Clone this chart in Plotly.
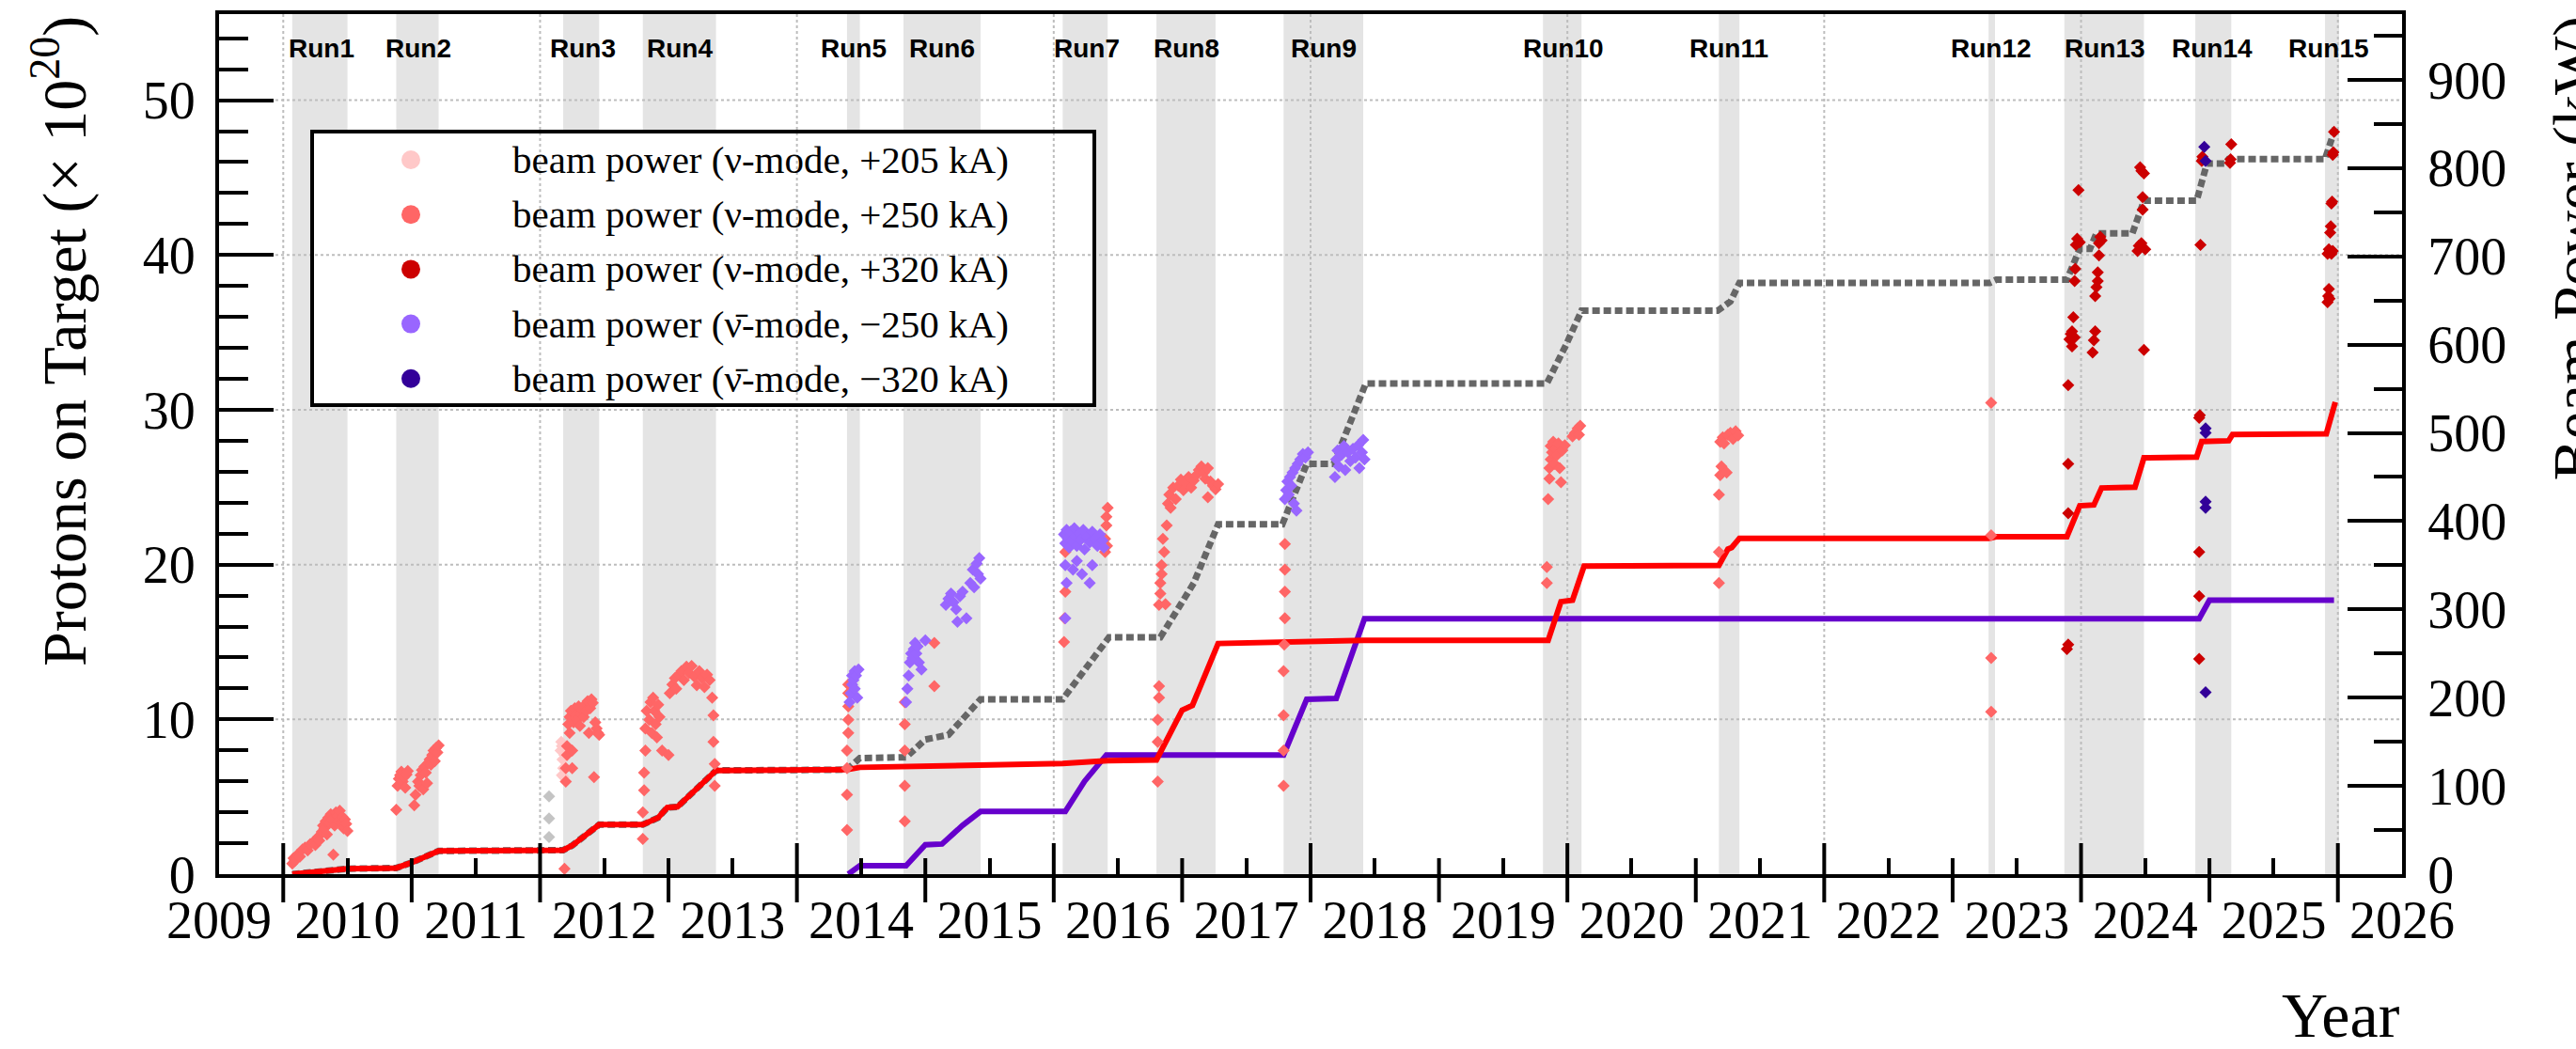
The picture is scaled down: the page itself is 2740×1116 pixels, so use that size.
import plotly.graph_objects as go

# ---------------- geometry ----------------
W, H = 2740, 1116
ML, MR, MT, MB = 233, 185, 15, 186
PW, PH = W - ML - MR, H - MT - MB
X_RANGE = [2009.5, 2026.5]
POT_MAX = 55.56
KW_MAX = 974.5

# ---------------- run periods ----------------
run_names = ["Run1", "Run2", "Run3", "Run4", "Run5", "Run6", "Run7", "Run8",
             "Run9", "Run10", "Run11", "Run12", "Run13", "Run14", "Run15"]
run_start = [2010.07, 2010.88, 2012.18, 2012.80, 2014.39, 2014.83, 2016.07, 2016.80,
             2017.79, 2019.81, 2021.18, 2023.28, 2023.87, 2024.89, 2025.90]
run_end = [2010.50, 2011.21, 2012.46, 2013.37, 2014.49, 2015.43, 2016.42, 2017.26,
           2018.41, 2020.11, 2021.34, 2023.33, 2024.49, 2025.17, 2026.01]
run_label_x = [2010.30, 2011.05, 2012.33, 2013.09, 2014.44, 2015.13, 2016.26, 2017.03,
               2018.10, 2019.97, 2021.26, 2023.30, 2024.19, 2025.02, 2025.93]

year_labels = list(range(2009, 2027))

# ---------------- accumulated POT (x10^20) ----------------
nu_year = [2010.07, 2010.22, 2010.50, 2010.88, 2011.00, 2011.21, 2012.18, 2012.25, 2012.46,
           2012.80, 2012.92, 2012.99, 2013.07, 2013.37, 2014.39, 2014.49, 2014.83, 2015.43,
           2016.07, 2016.42, 2016.80, 2017.00, 2017.08, 2017.28, 2017.79, 2018.41, 2019.85,
           2019.95, 2020.04, 2020.13, 2021.18, 2021.25, 2021.28, 2021.34, 2023.28, 2023.34,
           2023.89, 2023.99, 2024.10, 2024.16, 2024.42, 2024.49, 2024.90, 2024.94, 2025.15,
           2025.18, 2025.91, 2025.98]
nu_pot = [0.0, 0.1, 0.35, 0.4, 0.75, 1.5, 1.55, 1.85, 3.2,
          3.2, 3.65, 4.3, 4.35, 6.7, 6.75, 6.9, 6.95, 7.12,
          7.15, 7.33, 7.38, 10.6, 10.9, 14.9, 14.95, 15.1, 15.1,
          17.6, 17.7, 19.9, 19.95, 21.0, 21.1, 21.7, 21.7, 21.8,
          21.8, 23.8, 23.85, 24.95, 25.0, 26.9, 26.95, 27.95, 28.0,
          28.4, 28.45, 30.5]

anu_year = [2014.40, 2014.49, 2014.85, 2015.00, 2015.13, 2015.29, 2015.43, 2016.09, 2016.24,
            2016.41, 2017.79, 2017.97, 2018.20, 2018.42, 2024.92, 2025.00, 2025.97]
anu_pot = [0.0, 0.55, 0.55, 1.9, 1.95, 3.15, 4.05, 4.05, 6.0,
           7.7, 7.7, 11.3, 11.35, 16.5, 16.5, 17.7, 17.7]

tot_year = [2010.07, 2010.22, 2010.50, 2010.88, 2011.00, 2011.21, 2012.18, 2012.25, 2012.46,
            2012.80, 2012.92, 2012.99, 2013.07, 2013.37, 2014.39, 2014.49, 2014.85, 2015.00,
            2015.18, 2015.43, 2016.07, 2016.43, 2016.83, 2017.02, 2017.09, 2017.28, 2017.78,
            2017.97, 2018.18, 2018.43, 2019.84, 2019.99, 2020.11, 2021.17, 2021.27, 2021.34,
            2023.29, 2023.34, 2023.89, 2023.99, 2024.07, 2024.12, 2024.40, 2024.49, 2024.90,
            2024.98, 2025.12, 2025.15, 2025.90, 2025.98]
tot_pot = [0.0, 0.1, 0.35, 0.4, 0.75, 1.5, 1.55, 1.85, 3.2,
           3.2, 3.65, 4.3, 4.35, 6.7, 6.75, 7.5, 7.55, 8.7,
           9.0, 11.3, 11.3, 15.3, 15.3, 17.85, 18.8, 22.6, 22.6,
           26.5, 26.5, 31.7, 31.7, 34.2, 36.4, 36.4, 37.0, 38.2,
           38.2, 38.4, 38.4, 40.4, 40.4, 41.4, 41.4, 43.5, 43.5,
           45.9, 45.9, 46.2, 46.2, 48.2]

# ---------------- beam power points (kW) : (year, kW) ----------------
pow_p205 = [(2012.16, 140), (2012.165, 150), (2012.17, 145), (2012.17, 112), (2012.175, 130),
            (2012.18, 120), (2012.185, 110), (2012.19, 135)]

pow_p250 = [
    # Run1
    (2010.07, 12), (2010.08, 18), (2010.09, 15), (2010.11, 22), (2010.13, 20), (2010.15, 28),
    (2010.17, 30), (2010.19, 27), (2010.21, 34), (2010.23, 36), (2010.25, 33), (2010.27, 42),
    (2010.28, 38), (2010.30, 48), (2010.31, 55), (2010.32, 52), (2010.33, 60), (2010.34, 45),
    (2010.35, 64), (2010.36, 58), (2010.37, 68), (2010.38, 62), (2010.39, 22), (2010.40, 55),
    (2010.41, 70), (2010.42, 66), (2010.43, 60), (2010.44, 72), (2010.45, 58), (2010.46, 65),
    (2010.47, 52), (2010.48, 62), (2010.49, 57), (2010.50, 49),
    # Run2
    (2010.88, 73), (2010.89, 100), (2010.90, 108), (2010.91, 112), (2010.92, 116), (2010.93, 105),
    (2010.94, 110), (2010.95, 98), (2010.96, 113), (2010.97, 117), (2011.02, 78), (2011.03, 90),
    (2011.05, 105), (2011.06, 100), (2011.07, 112), (2011.08, 118), (2011.09, 96), (2011.10, 122),
    (2011.11, 115), (2011.12, 103), (2011.13, 126), (2011.14, 130), (2011.15, 124), (2011.16, 135),
    (2011.17, 140), (2011.18, 128), (2011.19, 143), (2011.20, 138), (2011.21, 146),
    # Run3
    (2012.19, 6), (2012.20, 105), (2012.20, 120), (2012.21, 135), (2012.21, 145), (2012.22, 170),
    (2012.23, 178), (2012.23, 160), (2012.24, 185), (2012.25, 120), (2012.25, 140), (2012.26, 172),
    (2012.27, 188), (2012.28, 180), (2012.29, 175), (2012.30, 190), (2012.31, 168), (2012.32, 182),
    (2012.33, 186), (2012.34, 178), (2012.35, 192), (2012.36, 185), (2012.37, 196), (2012.38, 160),
    (2012.39, 188), (2012.40, 198), (2012.41, 194), (2012.42, 110), (2012.43, 172), (2012.44, 165),
    (2012.45, 160), (2012.46, 158),
    # Run4
    (2012.80, 40), (2012.80, 70), (2012.81, 95), (2012.81, 115), (2012.82, 140), (2012.82, 165),
    (2012.83, 185), (2012.85, 175), (2012.86, 195), (2012.87, 160), (2012.88, 200), (2012.89, 185),
    (2012.90, 170), (2012.91, 155), (2012.92, 192), (2012.93, 178), (2012.95, 140), (2013.00, 135),
    (2013.01, 205), (2013.03, 215), (2013.05, 222), (2013.06, 210), (2013.08, 226), (2013.10, 230),
    (2013.12, 220), (2013.14, 235), (2013.16, 228), (2013.18, 236), (2013.20, 224), (2013.22, 214),
    (2013.24, 230), (2013.26, 222), (2013.28, 212), (2013.30, 226), (2013.32, 220), (2013.34, 200),
    (2013.35, 180), (2013.35, 150), (2013.36, 125), (2013.36, 100),
    # Run5
    (2014.39, 50), (2014.39, 90), (2014.39, 120), (2014.39, 140), (2014.40, 160), (2014.40, 175),
    (2014.40, 190), (2014.40, 205), (2014.40, 215),
    # Run6
    (2014.84, 60), (2014.84, 100), (2014.84, 140), (2014.84, 170), (2014.84, 195), (2015.07, 213),
    (2015.07, 262),
    # Run7
    (2016.08, 263), (2016.085, 290), (2016.09, 320), (2016.09, 365), (2016.40, 365), (2016.40, 380),
    (2016.41, 395), (2016.41, 405), (2016.42, 415), (2016.415, 372),
    # Run8
    (2016.81, 105), (2016.81, 150), (2016.81, 175), (2016.82, 200), (2016.82, 213), (2016.82, 305),
    (2016.83, 318), (2016.83, 330), (2016.84, 340), (2016.84, 350), (2016.85, 380), (2016.86, 365),
    (2016.87, 306), (2016.88, 395), (2016.89, 420), (2016.90, 430), (2016.91, 415), (2016.93, 438),
    (2016.95, 425), (2016.97, 440), (2016.99, 447), (2017.01, 435), (2017.03, 443), (2017.05, 450),
    (2017.07, 438), (2017.09, 446), (2017.11, 452), (2017.13, 458), (2017.15, 462), (2017.17, 455),
    (2017.18, 448), (2017.20, 460), (2017.20, 427), (2017.22, 445), (2017.24, 440), (2017.26, 436),
    (2017.28, 442),
    # Run9
    (2017.79, 100), (2017.79, 140), (2017.79, 180), (2017.79, 230), (2017.795, 260), (2017.80, 290),
    (2017.80, 320), (2017.80, 345), (2017.80, 374),
    # Run10
    (2019.84, 330), (2019.84, 348), (2019.85, 425), (2019.86, 448), (2019.86, 460), (2019.87, 470),
    (2019.87, 485), (2019.88, 478), (2019.89, 490), (2019.90, 465), (2019.91, 482), (2019.92, 475),
    (2019.93, 488), (2019.94, 460), (2019.95, 444), (2019.96, 480), (2019.98, 486), (2020.04, 496),
    (2020.06, 500), (2020.08, 505), (2020.09, 498), (2020.10, 508),
    # Run11
    (2021.18, 330), (2021.18, 365), (2021.18, 430), (2021.19, 452), (2021.19, 490), (2021.20, 462),
    (2021.21, 495), (2021.22, 488), (2021.24, 455), (2021.25, 498), (2021.27, 500), (2021.29, 493),
    (2021.31, 502), (2021.33, 497),
    # Run12
    (2023.30, 184), (2023.30, 245), (2023.30, 384), (2023.30, 534),
]

pow_p320 = [
    # Run13
    (2023.89, 255), (2023.90, 260), (2023.90, 409), (2023.90, 465), (2023.90, 554), (2023.91, 606),
    (2023.92, 612), (2023.93, 598), (2023.93, 615), (2023.94, 631), (2023.95, 608), (2023.95, 672),
    (2023.955, 686), (2023.96, 713), (2023.97, 720), (2023.98, 775), (2023.99, 716), (2024.09, 591),
    (2024.10, 605), (2024.11, 615), (2024.11, 655), (2024.12, 665), (2024.13, 672), (2024.13, 682),
    (2024.14, 701), (2024.14, 715), (2024.15, 722), (2024.16, 718), (2024.44, 706), (2024.45, 712),
    (2024.46, 801), (2024.47, 797), (2024.47, 715), (2024.48, 753), (2024.48, 767), (2024.49, 794),
    (2024.49, 594), (2024.50, 708),
    # Run14
    (2024.92, 244), (2024.92, 315), (2024.92, 365), (2024.92, 517), (2024.925, 520), (2024.93, 713),
    (2024.94, 808), (2024.945, 813), (2024.95, 810), (2025.16, 806), (2025.165, 810), (2025.17, 827),
    # Run15
    (2025.92, 648), (2025.925, 655), (2025.93, 663), (2025.935, 652), (2025.92, 703), (2025.93, 708),
    (2025.94, 705), (2025.95, 703), (2025.96, 706), (2025.94, 727), (2025.945, 734), (2025.95, 760),
    (2025.955, 762), (2025.96, 815), (2025.965, 818), (2025.97, 841),
]

pow_m250 = [
    # Run5
    (2014.41, 195), (2014.42, 205), (2014.43, 215), (2014.43, 225), (2014.44, 220), (2014.45, 230),
    (2014.45, 210), (2014.46, 225), (2014.47, 200), (2014.48, 232),
    # Run6
    (2014.85, 195), (2014.86, 210), (2014.87, 225), (2014.88, 240), (2014.89, 250), (2014.90, 245),
    (2014.91, 255), (2014.92, 262), (2014.93, 250), (2014.94, 258), (2014.95, 240), (2014.97, 232),
    (2015.00, 265), (2015.16, 305), (2015.18, 312), (2015.20, 318), (2015.22, 308), (2015.24, 300),
    (2015.25, 286), (2015.27, 315), (2015.29, 320), (2015.32, 290), (2015.35, 330), (2015.37, 345),
    (2015.38, 325), (2015.40, 352), (2015.41, 340), (2015.42, 358), (2015.43, 335),
    # Run7
    (2016.08, 385), (2016.09, 375), (2016.10, 390), (2016.11, 380), (2016.12, 370), (2016.13, 388),
    (2016.14, 378), (2016.16, 392), (2016.17, 383), (2016.18, 372), (2016.20, 386), (2016.21, 379),
    (2016.23, 390), (2016.24, 368), (2016.26, 382), (2016.28, 376), (2016.30, 388), (2016.32, 380),
    (2016.34, 372), (2016.36, 385), (2016.38, 378), (2016.39, 370), (2016.09, 350), (2016.10, 330),
    (2016.09, 290), (2016.15, 345), (2016.18, 355), (2016.22, 340), (2016.28, 330), (2016.30, 350),
    # Run9
    (2017.80, 425), (2017.81, 435), (2017.82, 445), (2017.83, 430), (2017.84, 450), (2017.85, 440),
    (2017.86, 455), (2017.87, 420), (2017.88, 460), (2017.89, 412), (2017.90, 465), (2017.92, 470),
    (2017.94, 476), (2017.96, 472), (2017.98, 478), (2018.19, 450), (2018.20, 470), (2018.21, 480),
    (2018.22, 462), (2018.24, 475), (2018.26, 485), (2018.27, 458), (2018.29, 478), (2018.31, 468),
    (2018.33, 482), (2018.35, 472), (2018.37, 486), (2018.38, 460), (2018.40, 478), (2018.41, 492),
    (2018.42, 470),
]

pow_m320 = [(2024.96, 824), (2024.97, 808), (2024.97, 505), (2024.97, 500), (2024.97, 422),
            (2024.97, 415), (2024.97, 206)]

pow_off = [(2012.07, 42), (2012.07, 63), (2012.07, 88)]

legend_labels = ["beam power (ν-mode, +205 kA)",
                 "beam power (ν-mode, +250 kA)",
                 "beam power (ν-mode, +320 kA)",
                 "beam power (ν̄-mode, −250 kA)",
                 "beam power (ν̄-mode, −320 kA)"]
legend_colors = ["#FFC8C8", "#FF6666", "#CC0000", "#9966FF", "#330099"]

SERIF = "Liberation Serif"
SANS = "Liberation Sans"


def xp(px):
    return (px - ML) / PW


def yp(py):
    return (H - MB - py) / PH


fig = go.Figure()

# beam power scatter (right axis)
for pts, col in [(pow_off, "#C4C4C4"), (pow_p205, legend_colors[0]), (pow_p250, legend_colors[1]),
                 (pow_m250, legend_colors[3]), (pow_p320, legend_colors[2]), (pow_m320, legend_colors[4])]:
    fig.add_trace(go.Scatter(
        x=[p[0] for p in pts], y=[p[1] for p in pts], mode="markers", yaxis="y2",
        marker=dict(symbol="diamond", size=10, color=col, line=dict(width=0)),
        showlegend=False, hoverinfo="skip"))

# accumulated POT lines (left axis)
fig.add_trace(go.Scatter(x=tot_year, y=tot_pot, mode="lines",
                         line=dict(color="#666666", width=7, dash="8px,4px"),
                         showlegend=False, hoverinfo="skip"))
fig.add_trace(go.Scatter(x=anu_year, y=anu_pot, mode="lines",
                         line=dict(color="#6600CC", width=6),
                         showlegend=False, hoverinfo="skip"))
fig.add_trace(go.Scatter(x=nu_year, y=nu_pot, mode="lines",
                         line=dict(color="#FF0000", width=6),
                         showlegend=False, hoverinfo="skip"))

shapes = []
# run bands
for s, e in zip(run_start, run_end):
    shapes.append(dict(type="rect", xref="x", yref="paper", x0=s, x1=e, y0=0, y1=1,
                       fillcolor="#E4E4E4", line=dict(width=0), layer="below"))
# legend background
LBX0, LBX1, LBY0, LBY1 = 332, 1164, 140, 431
shapes.append(dict(type="rect", xref="paper", yref="paper", x0=xp(LBX0), x1=xp(LBX1),
                   y0=yp(LBY1), y1=yp(LBY0), fillcolor="white", line=dict(width=0), layer="below"))
# grid lines
for yr in range(2010, 2027, 2):
    shapes.append(dict(type="line", xref="x", yref="paper", x0=yr, x1=yr, y0=0, y1=1,
                       line=dict(color="#BDBDBD", width=2, dash="dot"), layer="below"))
for v in range(10, 51, 10):
    shapes.append(dict(type="line", xref="paper", yref="y", x0=0, x1=1, y0=v, y1=v,
                       line=dict(color="#BDBDBD", width=2, dash="dot"), layer="below"))
# year-boundary ticks
for yr in range(2010, 2027):
    inside = 33 if yr % 2 == 0 else 17
    shapes.append(dict(type="line", xref="x", yref="paper", x0=yr, x1=yr,
                       y0=-30 / PH, y1=inside / PH, line=dict(color="black", width=4), layer="above"))
# legend border + markers
shapes.append(dict(type="rect", xref="paper", yref="paper", x0=xp(LBX0), x1=xp(LBX1),
                   y0=yp(LBY1), y1=yp(LBY0), line=dict(color="black", width=4), layer="above"))
annotations = []
for i, (lab, col) in enumerate(zip(legend_labels, legend_colors)):
    ry = 170 + 58.2 * i
    shapes.append(dict(type="circle", xref="paper", yref="paper", x0=xp(427), x1=xp(447),
                       y0=yp(ry + 10), y1=yp(ry - 10), fillcolor=col, line=dict(width=0), layer="above"))
    annotations.append(dict(text=lab, xref="paper", yref="paper", x=xp(543), y=yp(ry),
                            xanchor="left", yanchor="middle", showarrow=False,
                            font=dict(family=SERIF, size=41, color="black")))

# run labels
for name, lx in zip(run_names, run_label_x):
    annotations.append(dict(text="<b>" + name + "</b>", xref="x", yref="paper", x=lx, y=yp(52),
                            xanchor="center", yanchor="middle", showarrow=False,
                            font=dict(family=SANS, size=28, color="black")))

# axis titles
annotations.append(dict(text="Protons on Target (× 10<sup>20</sup>)", xref="paper", yref="paper",
                        x=xp(64), y=1.0, xanchor="center", yanchor="top", textangle=-90,
                        showarrow=False, font=dict(family=SERIF, size=66, color="black")))
annotations.append(dict(text="Beam Power (kW)", xref="paper", yref="paper",
                        x=xp(2738), y=1.0, xanchor="center", yanchor="top", textangle=-90,
                        showarrow=False, font=dict(family=SERIF, size=66, color="black")))
annotations.append(dict(text="Year", xref="paper", yref="paper", x=1.0, y=yp(1080),
                        xanchor="right", yanchor="middle", showarrow=False,
                        font=dict(family=SERIF, size=68, color="black")))

fig.update_layout(
    width=W, height=H,
    margin=dict(l=ML, r=MR, t=MT, b=MB, pad=0),
    paper_bgcolor="white", plot_bgcolor="white",
    hovermode=False, showlegend=False,
    shapes=shapes, annotations=annotations,
    xaxis=dict(range=X_RANGE, tickmode="array",
               tickvals=[y + 0.5 for y in year_labels], ticktext=[str(y) for y in year_labels],
               ticks="inside", ticklen=17, tickwidth=4, tickcolor="black",
               showgrid=False, zeroline=False, showline=True, linecolor="black", linewidth=4,
               mirror=True, ticklabelstandoff=-3,
               tickfont=dict(family=SERIF, size=56, color="black")),
    yaxis=dict(range=[0, POT_MAX], tickmode="linear", tick0=0, dtick=10,
               ticks="inside", ticklen=58, tickwidth=4, tickcolor="black",
               minor=dict(dtick=2, ticks="inside", ticklen=31, tickwidth=4, tickcolor="black", showgrid=False),
               showgrid=False, zeroline=False, showline=True, linecolor="black", linewidth=4,
               ticklabelstandoff=10,
               tickfont=dict(family=SERIF, size=56, color="black")),
    yaxis2=dict(range=[0, KW_MAX], overlaying="y", side="right", anchor="x",
                tickmode="linear", tick0=0, dtick=100,
                ticks="inside", ticklen=58, tickwidth=4, tickcolor="black",
                minor=dict(dtick=50, ticks="inside", ticklen=30, tickwidth=4, tickcolor="black", showgrid=False),
                showgrid=False, zeroline=False, showline=True, linecolor="black", linewidth=4,
                ticklabelstandoff=12,
                tickfont=dict(family=SERIF, size=56, color="black")),
)

fig.write_html("out.html", include_plotlyjs=True, full_html=True,
               config={"displayModeBar": False},
               post_script="document.body.style.margin='0';document.body.style.overflow='hidden';")
